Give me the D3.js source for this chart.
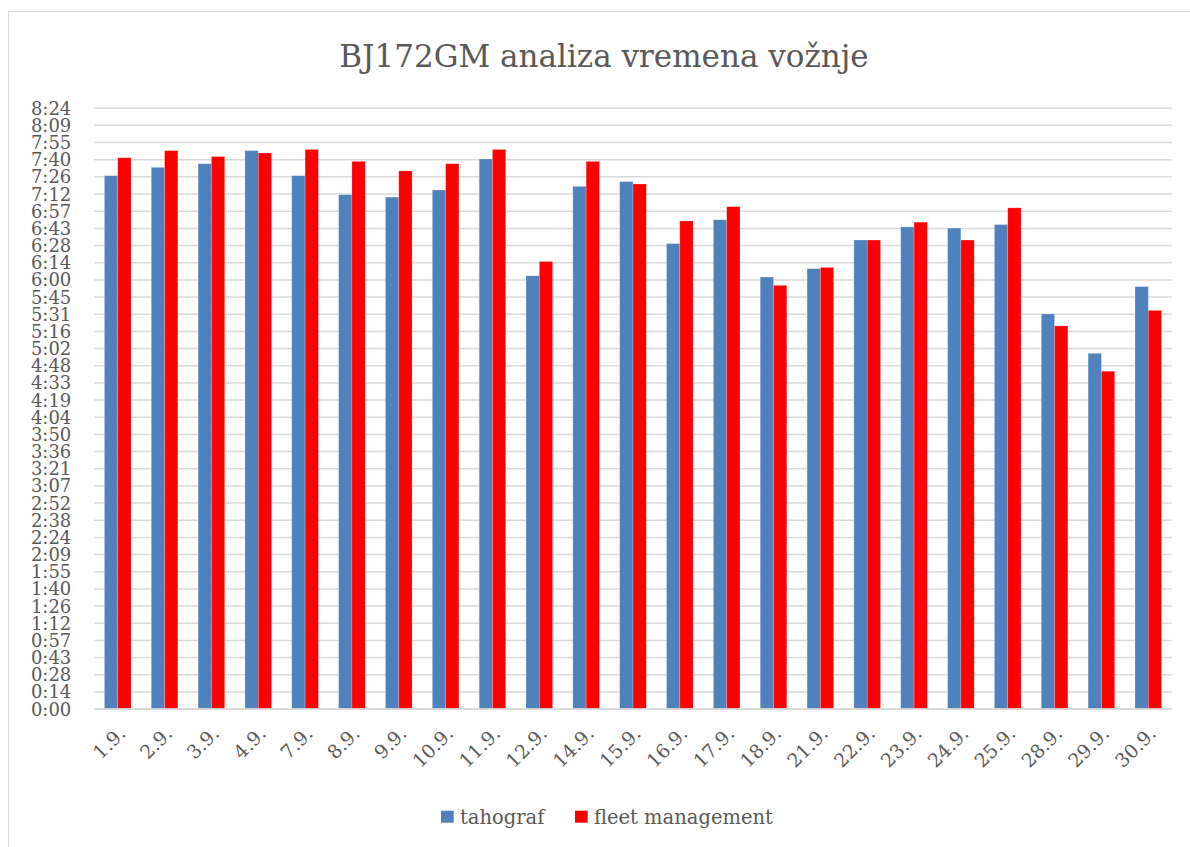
<!DOCTYPE html>
<html>
<head>
<meta charset="utf-8">
<script src="https://cdn.jsdelivr.net/npm/d3@7"></script>
<style>
  html, body { margin: 0; padding: 0; background: #fff; }
  svg { display: block; }
  text { font-family: "DejaVu Serif", "Liberation Serif", serif; fill: #595959; }
</style>
</head>
<body>
<svg id="chart" width="1190" height="847"></svg>
<script>
const categories = ["1.9.","2.9.","3.9.","4.9.","7.9.","8.9.","9.9.","10.9.","11.9.","12.9.","14.9.","15.9.","16.9.","17.9.","18.9.","21.9.","22.9.","23.9.","24.9.","25.9.","28.9.","29.9.","30.9."];
const tahograf = ["7:27","7:34","7:37","7:48","7:27","7:11","7:09","7:15","7:41","6:03","7:18","7:22","6:30","6:50","6:02","6:09","6:33","6:44","6:43","6:46","5:31","4:58","5:54"];
const fleetManagement = ["7:42","7:48","7:43","7:46","7:49","7:39","7:31","7:37","7:49","6:15","7:39","7:20","6:49","7:01","5:55","6:10","6:33","6:48","6:33","7:00","5:21","4:43","5:34"];
const yTickLabels = ["0:00","0:14","0:28","0:43","0:57","1:12","1:26","1:40","1:55","2:09","2:24","2:38","2:52","3:07","3:21","3:36","3:50","4:04","4:19","4:33","4:48","5:02","5:16","5:31","5:45","6:00","6:14","6:28","6:43","6:57","7:12","7:26","7:40","7:55","8:09","8:24"];
const seriesNames = ["tahograf", "fleet management"];
const seriesColors = ["#4F81BD", "#FF0000"];
const title = "BJ172GM analiza vremena vožnje";

const toMin = s => { const [h, m] = s.split(":").map(Number); return h * 60 + m; };
const tickStep = 14.4; // 0.01 day in minutes
const yTicks = yTickLabels.map((_, i) => i * tickStep);

const svg = d3.select("#chart");
const mLeft = 94.3, mRight = 1171.7, mTop = 107.7, mBottom = 708.6;

// chart border
svg.append("rect").attr("x", 8.5).attr("y", 11.5).attr("width", 1200).attr("height", 900)
  .attr("fill", "none").attr("stroke", "#D9D9D9").attr("stroke-width", 1);

const x0 = d3.scaleBand().domain(categories).range([mLeft, mRight]).paddingInner(0).paddingOuter(0);
const y = d3.scaleLinear().domain([0, yTicks[yTicks.length - 1]]).range([mBottom, mTop]);
const x1 = d3.scaleBand().domain(seriesNames).range([0, 26.6]);
const groupOffset = (x0.bandwidth() - 26.6) / 2;

// gridlines
const yAxis = d3.axisLeft(y).tickValues(yTicks).tickSize(-(mRight - mLeft))
  .tickFormat((d, i) => yTickLabels[i]);
const gy = svg.append("g").attr("transform", `translate(${mLeft},0)`).call(yAxis);
gy.select(".domain").remove();
gy.selectAll(".tick line").attr("stroke", "#D9D9D9").attr("stroke-width", 1.5);
gy.selectAll(".tick text").attr("x", -23).attr("font-size", 18)
  .attr("font-family", "DejaVu Serif").attr("fill", "#595959").attr("dy", "0.36em");

// bars
const data = categories.map((c, i) => ({ c, vals: [toMin(tahograf[i]), toMin(fleetManagement[i])] }));
const groups = svg.append("g").selectAll("g").data(data).join("g")
  .attr("transform", d => `translate(${x0(d.c) + groupOffset},0)`);
groups.selectAll("rect").data(d => d.vals.map((v, k) => ({ v, k }))).join("rect")
  .attr("x", d => x1(seriesNames[d.k]))
  .attr("width", x1.bandwidth())
  .attr("y", d => y(d.v))
  .attr("height", d => mBottom - y(d.v))
  .attr("fill", d => seriesColors[d.k])
  .attr("stroke", "#fff").attr("stroke-opacity", 0.35).attr("stroke-width", 0.6);

// x axis
const xAxis = d3.axisBottom(x0).tickSize(0).tickPadding(0);
const gx = svg.append("g").attr("transform", `translate(0,${mBottom})`).call(xAxis);
gx.select(".domain").attr("stroke", "#D9D9D9").attr("stroke-width", 1.5);
gx.selectAll(".tick text")
  .attr("font-size", 19).attr("font-family", "DejaVu Serif").attr("fill", "#595959")
  .attr("text-anchor", "end").attr("dy", 0).attr("y", 0)
  .attr("transform", "translate(9,26) rotate(-45)");

// title
svg.append("text").attr("x", 604).attr("y", 67).attr("text-anchor", "middle")
  .attr("font-size", 31).text(title);

// legend
const legend = svg.append("g").attr("transform", "translate(441,810.7)");
const legX = [0, 134];
seriesNames.forEach((n, i) => {
  legend.append("rect").attr("x", legX[i]).attr("y", 0).attr("width", 12.7).attr("height", 12)
    .attr("fill", seriesColors[i]);
  legend.append("text").attr("x", legX[i] + 19).attr("y", 13).attr("font-size", 19.5).text(n);
});
</script>
</body>
</html>
